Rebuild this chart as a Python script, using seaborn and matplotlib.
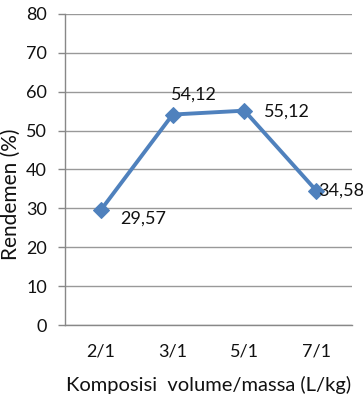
import matplotlib
matplotlib.use("Agg")
import matplotlib.pyplot as plt
import seaborn as sns
import pandas as pd

categories = ["2/1", "3/1", "5/1", "7/1"]
rendemen = [29.57, 54.12, 55.12, 34.58]
labels = ["29,57", "54,12", "55,12", "34,58"]
yticks = [0, 10, 20, 30, 40, 50, 60, 70, 80]

sns.set_style("white")
plt.rcParams['font.family'] = ['Lato', 'DejaVu Sans']

df = pd.DataFrame({"kat": categories, "val": rendemen})

fig = plt.figure(figsize=(3.63, 4.03), dpi=100)
ax = fig.add_axes([0.179, 0.1935, 0.791, 0.772])

sns.lineplot(data=df, x="kat", y="val", ax=ax, color="#4F81BD", linewidth=2.8,
             marker="D", markersize=8.5, markeredgecolor="#4F81BD", sort=False)

ax.set_ylim(0, 80)
ax.set_xlim(-0.5, 3.5)
ax.set_yticks(yticks)
ax.set_yticklabels([str(t) for t in yticks], fontsize=13, color="#111111")
ax.set_xticks(range(len(categories)))
ax.set_xticklabels(categories, fontsize=13, color="#111111")
ax.set_xticks([-0.5, 0.5, 1.5, 2.5, 3.5], minor=True)
ax.tick_params(axis='x', which='major', length=0, pad=13)
ax.tick_params(axis='x', which='minor', length=5, color="#888888", width=1)
ax.tick_params(axis='y', length=5, color="#888888", width=1, pad=8, direction='out', left=True)
ax.yaxis.grid(True, color="#999999", linewidth=1)
ax.set_axisbelow(True)
for s in ["top", "right"]:
    ax.spines[s].set_visible(False)
for s in ["left", "bottom"]:
    ax.spines[s].set_color("#888888")
    ax.spines[s].set_linewidth(1)

ax.set_xlabel("Komposisi  volume/massa (L/kg)", fontsize=14.5, labelpad=12, color="#111111")
ax.set_ylabel("Rendemen (%)", fontsize=15, color="#111111")
ax.yaxis.set_label_coords(-0.152, 0.42)

offsets = [(14, -6), (-1, 14), (14, -1), (1.5, 0)]
for i, (v, lab, off) in enumerate(zip(rendemen, labels, offsets)):
    ax.annotate(lab, (i, v), xytext=off, textcoords="offset points",
                ha="left", va="center", fontsize=13, color="#111111")

fig.savefig("out.png", dpi=100)
